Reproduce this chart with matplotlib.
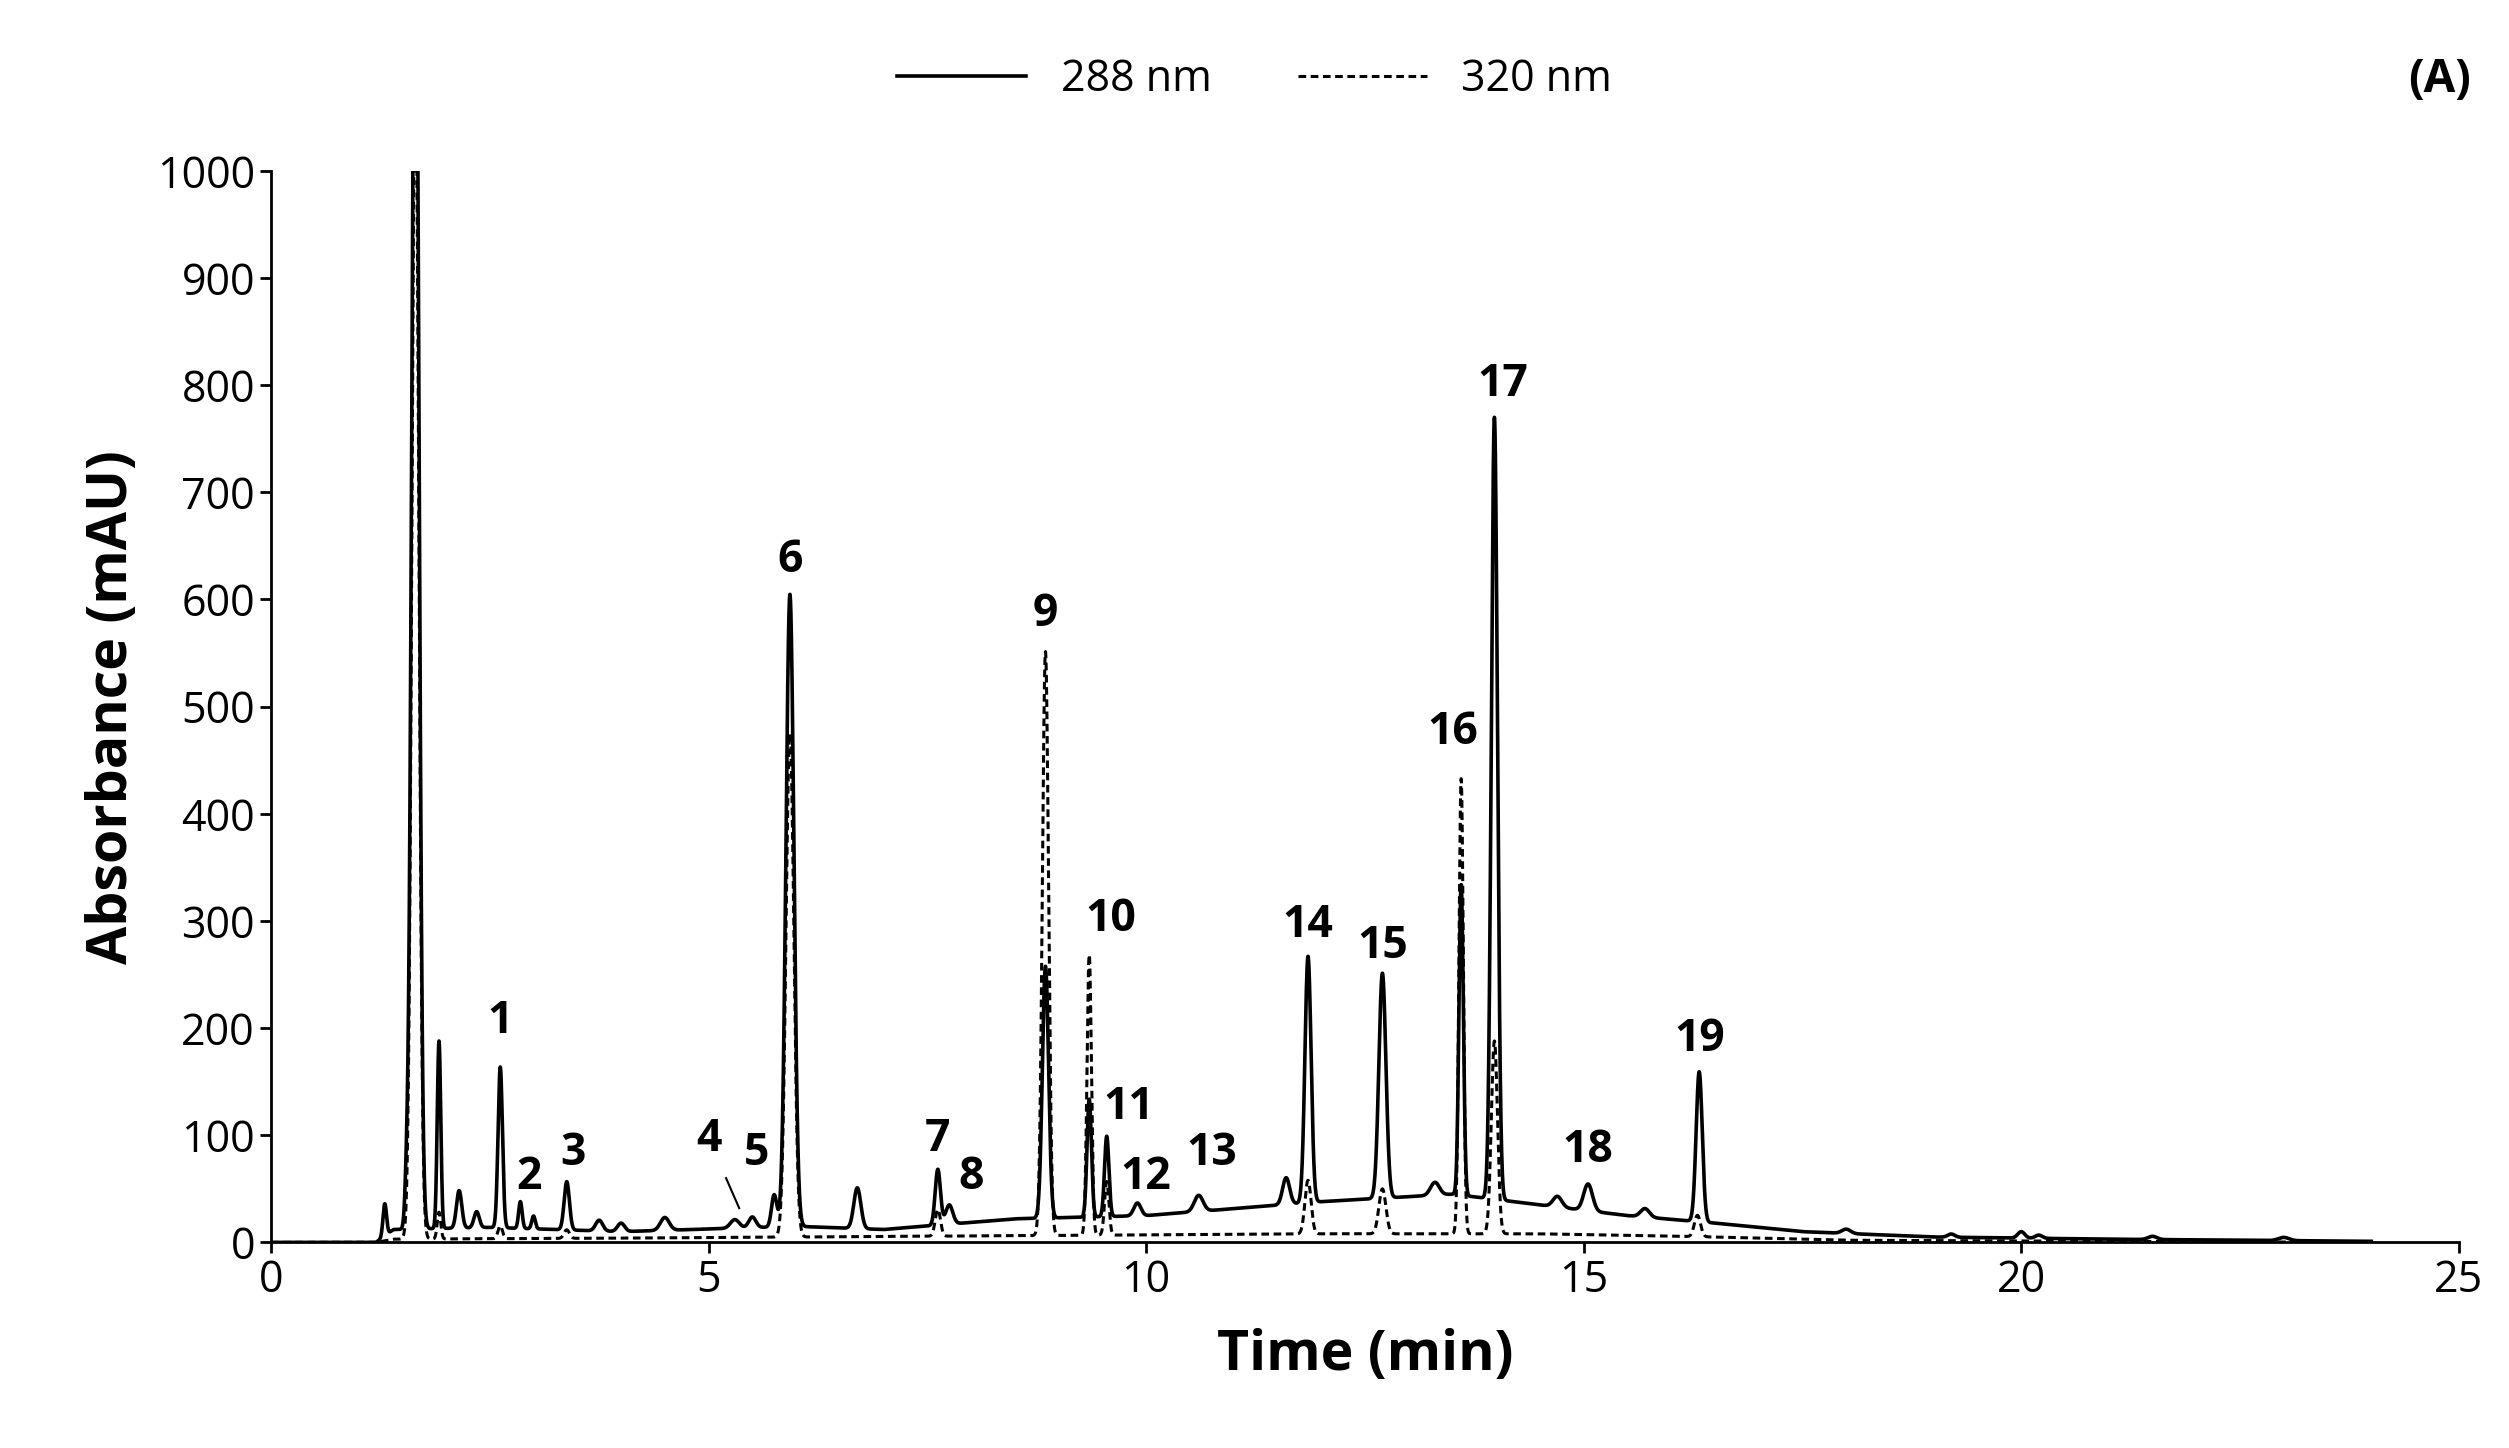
import numpy as np
import matplotlib
matplotlib.use("Agg")
import matplotlib.pyplot as plt

plt.rcParams['font.family'] = ['Open Sans', 'DejaVu Sans']

# 288 nm peaks: retention time (min), height (mAU), width (min)
p288_t = [1.30, 1.55, 1.65, 1.92, 2.15, 2.35, 2.62, 2.85, 3.00, 3.38, 3.75, 4.00, 4.50, 5.30, 5.50, 5.75, 5.93, 6.70, 7.62, 7.75, 8.85, 9.35, 9.55, 9.90, 10.60, 11.60, 11.85, 12.70, 13.30, 13.60, 13.98, 14.70, 15.05, 15.70, 16.32, 18.0, 19.2, 20.0, 20.2, 21.5, 23.0]
p288_h = [30, 35, 1300, 175, 35, 15, 150, 25, 12, 45, 10, 8, 12, 8, 10, 30, 590, 38, 52, 18, 235, 110, 75, 12, 15, 25, 230, 210, 12, 290, 730, 10, 25, 8, 140, 4, 3, 6, 3, 3, 3]
p288_w = [0.02, 0.02, 0.04, 0.02, 0.03, 0.03, 0.025, 0.02, 0.02, 0.03, 0.04, 0.04, 0.05, 0.05, 0.04, 0.03, 0.045, 0.04, 0.03, 0.04, 0.035, 0.025, 0.025, 0.04, 0.05, 0.04, 0.035, 0.04, 0.05, 0.025, 0.035, 0.05, 0.05, 0.05, 0.035, 0.05, 0.04, 0.04, 0.04, 0.05, 0.06]
# baseline 288 nm (time, mAU)
b288_t = [0, 1.2, 1.4, 2.5, 4.0, 6.0, 7.0, 8.5, 10.0, 12.0, 13.5, 14.5, 15.5, 16.5, 17.5, 19.0, 21.0, 24.0]
b288_v = [0, 0, 12, 14, 10, 15, 12, 22, 25, 38, 45, 35, 25, 18, 10, 5, 3, 1]

p320_t = [1.65, 1.92, 2.62, 3.38, 5.93, 7.62, 8.85, 9.35, 9.55, 11.85, 12.70, 13.60, 13.98, 16.30]
p320_h = [1100, 25, 12, 8, 470, 25, 545, 262, 50, 50, 42, 425, 180, 20]
p320_w = [0.04, 0.02, 0.025, 0.03, 0.045, 0.03, 0.035, 0.025, 0.025, 0.035, 0.04, 0.025, 0.035, 0.035]
b320_t = [0, 1.2, 1.4, 4.0, 8.0, 12.0, 14.5, 16.5, 18.0, 24.0]
b320_v = [0, 0, 3, 4, 6, 8, 8, 5, 2, 0]

labels = ['1','2','3','4','5','6','7','8','9','10','11','12','13','14','15','16','17','18','19']
label_x = [2.62, 2.95, 3.45, 5.0, 5.55, 5.93, 7.62, 8.0, 8.85, 9.6, 9.8, 10.0, 10.75, 11.85, 12.7, 13.5, 14.07, 15.05, 16.32]
label_y = [185, 40, 62, 75, 62, 615, 75, 40, 565, 280, 105, 40, 62, 275, 255, 455, 780, 65, 168]

t = np.linspace(0, 24, 12000)
def trace(pt, ph, pw, bt, bv):
    y = np.interp(t, bt, bv)
    for a, h, w in zip(pt, ph, pw):
        y = y + h * np.exp(-0.5 * ((t - a) / w) ** 2)
    return y

y288 = trace(p288_t, p288_h, p288_w, b288_t, b288_v)
y320 = trace(p320_t, p320_h, p320_w, b320_t, b320_v)

fig = plt.figure(figsize=(25.09, 14.48), dpi=100)
ax = fig.add_axes([0.108, 0.142, 0.872, 0.74])
ax.plot(t, y288, color='black', lw=2.6, label='288 nm')
ax.plot(t, y320, color='black', lw=2.2, ls=(0, (2.5, 1.5)), label='320 nm')
ax.set_xlim(0, 25)
ax.set_ylim(0, 1000)
ax.set_xticks(range(0, 26, 5))
ax.set_yticks(range(0, 1001, 100))
for s in ['top', 'right']:
    ax.spines[s].set_visible(False)
for s in ['left', 'bottom']:
    ax.spines[s].set_linewidth(2)
ax.tick_params(labelsize=31, width=2, length=8)
ax.set_xlabel('Time (min)', fontsize=40, fontweight='bold', labelpad=18)
ax.set_ylabel('Absorbance (mAU)', fontsize=40, fontweight='bold', labelpad=12)
for lab, x, yv in zip(labels, label_x, label_y):
    ax.text(x, yv, lab, fontsize=32, fontweight='bold', ha='center', va='bottom')
ax.plot([5.2, 5.35], [60, 32], color='black', lw=1.5)
ax.legend(loc='center', bbox_to_anchor=(0.5, 0.945), bbox_transform=fig.transFigure,
          ncol=2, frameon=False, fontsize=31, handlelength=3.0, columnspacing=2.0)
fig.text(0.985, 0.945, '(A)', fontsize=33, fontweight='bold', ha='right', va='center')
fig.savefig('out.png', dpi=100)
